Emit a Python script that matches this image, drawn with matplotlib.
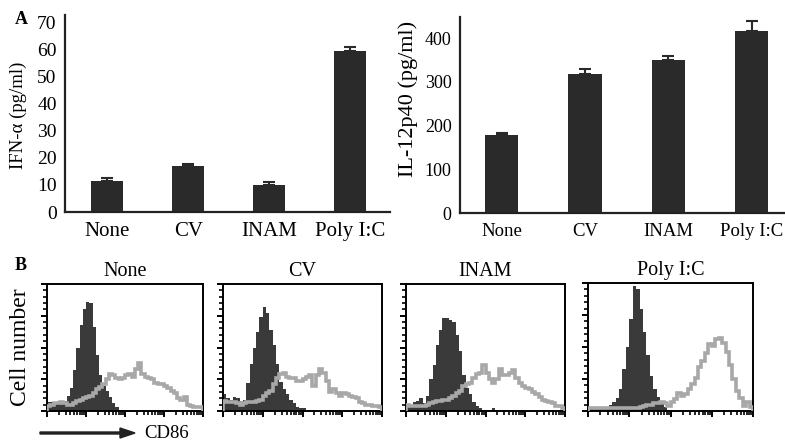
import numpy as np
import matplotlib
matplotlib.use("Agg")
import matplotlib.pyplot as plt
from matplotlib.ticker import MultipleLocator, LogLocator, NullFormatter

plt.rcParams["font.family"] = ["Liberation Serif", "DejaVu Serif"]

# Panel A data
categories = ["None", "CV", "INAM", "Poly I:C"]
ifn_alpha = [11.4, 16.9, 9.9, 59.4]
ifn_alpha_err = [1.1, 0.7, 1.1, 1.5]
il12 = [178, 317, 350, 415]
il12_err = [5, 13, 9, 24]

# Panel B data: CD86 histograms, 48 log bins over 4 decades, % of panel height
hist_titles = ["None", "CV", "INAM", "Poly I:C"]
isotype_none = [7, 7, 6, 7, 8, 8, 12, 18, 32, 50, 68, 80, 86, 85, 66, 44, 28, 20, 16, 11,
                6, 3, 1, 0, 0, 0, 0, 0, 0, 0, 0, 0, 0, 0, 0, 0, 0, 0, 0, 0,
                0, 0, 0, 0, 0, 0, 0, 0]
cd86_none = [4, 5, 6, 6, 7, 6, 5, 5, 6, 8, 9, 10, 11, 12, 14, 17, 19, 21, 25, 29,
             28, 26, 25, 26, 28, 29, 27, 33, 38, 29, 27, 26, 25, 22, 21, 21, 20, 18, 16, 14,
             10, 9, 11, 5, 4, 3, 3, 3]
isotype_cv = [13, 10, 9, 11, 10, 8, 9, 22, 37, 50, 62, 74, 82, 77, 64, 52, 37, 23, 17, 13,
              9, 6, 3, 2, 2, 1, 0, 0, 0, 0, 0, 0, 0, 0, 0, 0, 0, 0, 0, 0,
              0, 0, 0, 0, 0, 0, 0, 0]
cd86_cv = [8, 7, 7, 7, 6, 5, 6, 7, 7, 7, 8, 9, 12, 14, 16, 21, 26, 29, 30, 27,
           26, 26, 24, 24, 25, 27, 28, 20, 28, 33, 30, 24, 15, 17, 14, 12, 14, 13, 12, 11,
           10, 7, 6, 5, 5, 4, 4, 3]
isotype_inam = [5, 5, 7, 8, 10, 6, 12, 25, 36, 52, 64, 73, 73, 72, 70, 60, 47, 28, 18, 13,
                7, 4, 2, 1, 1, 1, 2, 1, 0, 0, 0, 0, 0, 0, 0, 0, 0, 0, 0, 0,
                0, 0, 0, 0, 0, 0, 0, 0]
cd86_inam = [5, 4, 4, 4, 4, 4, 5, 6, 7, 8, 8, 9, 9, 10, 12, 14, 16, 20, 21, 22,
             26, 29, 30, 36, 30, 25, 22, 25, 33, 28, 28, 30, 32, 26, 22, 20, 18, 17, 15, 13,
             11, 9, 8, 7, 6, 4, 4, 2]
isotype_poly = [2, 2, 2, 3, 3, 3, 5, 7, 10, 17, 33, 50, 72, 98, 95, 80, 62, 44, 27, 17,
                11, 6, 3, 1, 0, 0, 0, 0, 0, 0, 0, 0, 0, 0, 0, 0, 0, 0, 0, 0,
                0, 0, 0, 0, 0, 0, 0, 0]
cd86_poly = [2, 2, 2, 2, 2, 2, 2, 2, 2, 2, 2, 2, 2, 2, 2, 3, 4, 5, 5, 6,
             6, 7, 6, 4, 7, 9, 14, 12, 13, 17, 21, 26, 34, 39, 45, 52, 51, 56, 57, 53,
             46, 36, 25, 16, 10, 4, 7, 3]

W, H = 785, 442
fig = plt.figure(figsize=(W / 100, H / 100), dpi=100)


def px_axes(x0, y0, x1, y1):
    return fig.add_axes([x0 / W, 1 - y1 / H, (x1 - x0) / W, (y1 - y0) / H])


bar_color = "#2a2a2a"


def bar_panel(ax, values, errs, ylim, yticks, ylabel, tick_size, xtick_size,
              label_size, label_xy, xlim):
    x = np.arange(len(categories))
    ax.bar(x, values, width=0.4, color=bar_color, zorder=2)
    ax.errorbar(x, values, yerr=[np.zeros(len(errs)), errs], fmt="none",
                ecolor=bar_color, elinewidth=1.5, capsize=4, capthick=1.5, zorder=1)
    ax.set_xlim(*xlim)
    ax.set_ylim(*ylim)
    ax.set_yticks(yticks)
    ax.set_xticks(x)
    ax.set_xticklabels(categories, fontsize=xtick_size)
    ax.tick_params(axis="y", labelsize=tick_size, length=0, pad=6)
    ax.tick_params(axis="x", length=0, pad=7)
    ax.set_ylabel(ylabel, fontsize=label_size)
    ax.yaxis.set_label_coords(*label_xy)
    for side in ("top", "right"):
        ax.spines[side].set_visible(False)
    for side in ("left", "bottom"):
        ax.spines[side].set_linewidth(1.6)
        ax.spines[side].set_color("#222222")


ax1 = px_axes(65, 15, 390, 212)
bar_panel(ax1, ifn_alpha, ifn_alpha_err, (0, 72.6), range(0, 71, 10),
          "IFN-\u03b1 (pg/ml)", 14, 15, 13.5, (-0.117, 0.49), (-0.52, 3.49))

ax2 = px_axes(460, 17, 784, 213)
bar_panel(ax2, il12, il12_err, (0, 448), range(0, 401, 100),
          "IL-12p40 (pg/ml)", 13, 13.5, 16, (-0.13, 0.58), (-0.5, 3.39))

fig.text(15 / W, 1 - 20 / H, "A", fontsize=13, fontweight="bold", va="center")
fig.text(15 / W, 1 - 266 / H, "B", fontsize=13, fontweight="bold", va="center")

edges = np.logspace(0, 4, len(cd86_none) + 1)
hist_boxes = [(47, 284, 203, 411), (223, 284, 382, 411),
              (406, 284, 565, 411), (588, 283, 753, 411)]
filled = [isotype_none, isotype_cv, isotype_inam, isotype_poly]
lines = [cd86_none, cd86_cv, cd86_inam, cd86_poly]

for box, title, dark, grey in zip(hist_boxes, hist_titles, filled, lines):
    ax = px_axes(*box)
    ax.stairs(dark, edges, fill=True, color="#3a3a3a", zorder=2)
    ax.stairs(grey, edges, color="#a8a8a8", linewidth=2.6, zorder=3)
    ax.set_xscale("log")
    ax.set_xlim(1, 1e4)
    ax.set_ylim(0, 100)
    ax.xaxis.set_major_locator(LogLocator(base=10, numticks=6))
    ax.xaxis.set_minor_locator(LogLocator(base=10, subs=np.arange(2, 10), numticks=12))
    ax.xaxis.set_major_formatter(NullFormatter())
    ax.xaxis.set_minor_formatter(NullFormatter())
    ax.yaxis.set_major_locator(MultipleLocator(25))
    ax.yaxis.set_minor_locator(MultipleLocator(5))
    ax.yaxis.set_major_formatter(NullFormatter())
    ax.tick_params(which="major", direction="out", length=4.5, width=1.4)
    ax.tick_params(which="minor", direction="out", length=3, width=1.2)
    for spine in ax.spines.values():
        spine.set_linewidth(1.4)
    ax.set_title(title, fontsize=14.5, pad=6)

fig.text(21 / W, 1 - 347 / H, "Cell number", fontsize=17, rotation=90,
         ha="center", va="center")

fig.patches.append(matplotlib.patches.FancyArrow(
    40 / W, 1 - 433 / H, 80 / W, 0, width=2 / H, head_width=10 / H, head_length=15 / W,
    length_includes_head=False, transform=fig.transFigure, color="#222222"))
fig.text(144 / W, 1 - 433 / H, "CD86", fontsize=13.5, va="center")

fig.savefig("out.png", dpi=100)
